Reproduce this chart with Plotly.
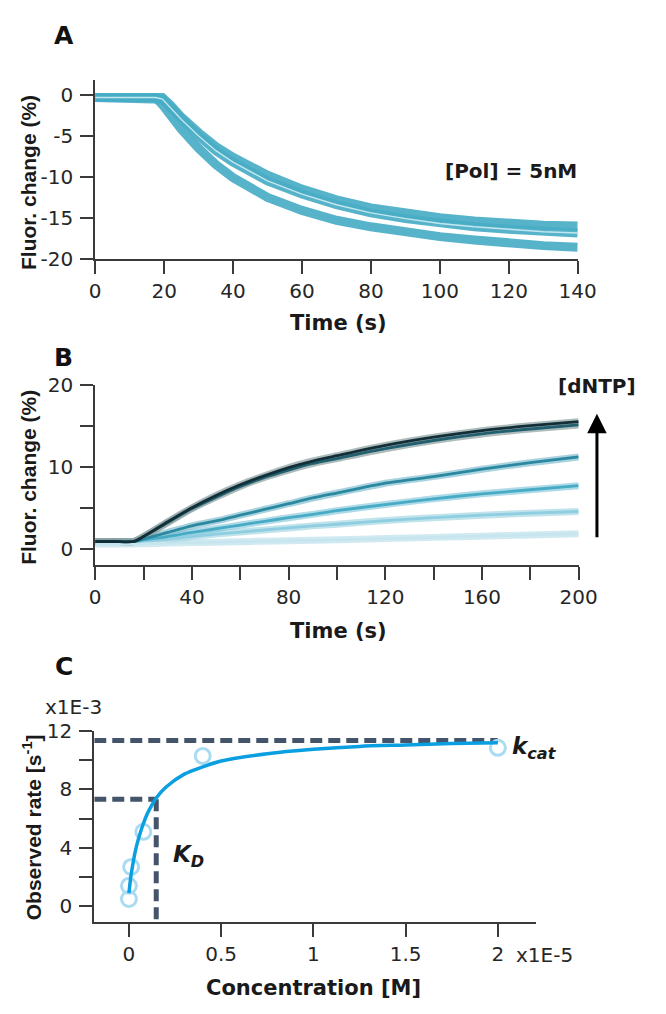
import plotly.graph_objects as go

# ---------------- Panel A data (Time s, Fluor. change %) ----------------
A_TIME = [0, 10, 17.5, 19.5, 22, 25, 30, 35, 40, 50, 60, 70, 80, 90, 100, 110, 120, 130, 140]
A_TRACE_1 = [-0.3, -0.3, -0.3, -0.3, -1.3, -2.7, -4.6, -6.3, -7.6, -9.8, -11.5, -12.8, -13.8, -14.5, -15.0, -15.4, -15.7, -15.9, -16.0]
A_TRACE_2 = [-0.3, -0.3, -0.3, -0.5, -1.6, -3.0, -5.0, -6.8, -8.2, -10.5, -12.1, -13.4, -14.4, -15.1, -15.7, -16.1, -16.4, -16.7, -16.85]
A_TRACE_3 = [-0.3, -0.3, -0.3, -1.2, -2.6, -4.2, -6.5, -8.5, -10.1, -12.5, -14.1, -15.3, -16.1, -16.8, -17.3, -17.7, -18.1, -18.4, -18.6]
A_XTICKS = [0, 20, 40, 60, 80, 100, 120, 140]
A_YTICKS = [-20, -15, -10, -5, 0]
A_YTICKTEXT = ["-20", "-15", "-10", "-5", "0"]

# ---------------- Panel B data (Time s, Fluor. change %) ----------------
B_TIME = [0, 8, 16, 20, 30, 40, 50, 60, 70, 80, 90, 100, 120, 140, 160, 180, 200]
B_DNTP_1 = [0.6, 0.6, 0.6, 0.63, 0.7, 0.76, 0.82, 0.88, 0.94, 1.0, 1.05, 1.1, 1.25, 1.4, 1.55, 1.7, 1.85]
B_DNTP_2 = [0.9, 0.9, 0.9, 1.0, 1.2, 1.5, 1.8, 2.05, 2.3, 2.55, 2.8, 3.0, 3.45, 3.8, 4.1, 4.35, 4.55]
B_DNTP_3 = [0.9, 0.9, 0.9, 1.1, 1.5, 2.0, 2.45, 2.9, 3.35, 3.8, 4.2, 4.65, 5.4, 6.1, 6.7, 7.2, 7.7]
B_DNTP_4 = [0.9, 0.9, 0.9, 1.2, 2.0, 2.8, 3.4, 4.1, 4.8, 5.5, 6.2, 6.8, 8.0, 8.8, 9.7, 10.5, 11.2]
B_DNTP_5 = [0.9, 0.9, 0.9, 1.5, 3.2, 4.9, 6.3, 7.6, 8.7, 9.6, 10.4, 11.0, 12.2, 13.2, 14.0, 14.6, 15.1]
B_DNTP_6 = [0.9, 0.9, 0.9, 1.5, 3.3, 5.0, 6.5, 7.8, 8.9, 9.9, 10.7, 11.35, 12.6, 13.6, 14.4, 15.0, 15.5]
B_XTICKS = [0, 40, 80, 120, 160, 200]
B_XMINOR = [20, 60, 100, 140, 180]
B_YTICKS = [0, 10, 20]
B_YMINOR = [5, 15]

# ---------------- Panel C data (Concentration x1E-5 M, rate x1E-3 s^-1) ----------------
C_CONC = [0, 0, 0.012, 0.078, 0.4, 2.0]
C_RATE = [0.5, 1.4, 2.7, 5.1, 10.3, 10.85]
C_FIT_CONC = [0, 0.01, 0.02, 0.035, 0.05, 0.075, 0.1, 0.125, 0.15, 0.2, 0.3, 0.4, 0.5, 0.75, 1.0, 1.25, 1.5, 1.75, 2.0]
C_FIT_RATE = [0.9, 2.0, 2.8, 3.8, 4.55, 5.55, 6.35, 6.95, 7.45, 8.15, 9.05, 9.55, 9.95, 10.45, 10.75, 10.95, 11.05, 11.15, 11.2]
KD_CONC = 0.148
KD_RATE = 7.33
KCAT_RATE = 11.35
KCAT_CONC_END = 2.0
C_XTICKS = [0, 0.5, 1, 1.5, 2]
C_XTICKTEXT = ["0", "0.5", "1", "1.5", "2"]
C_YTICKS = [0, 4, 8, 12]
C_YMINOR = [2, 6, 10]

W, H = 666, 1014
def px(x):
    return x / W
def py(y):
    return 1 - y / H

AX = "#3a3a3a"
TICKFONT = dict(family="DejaVu Sans", size=20, color="#262626")
TITLEFONT = dict(family="DejaVu Sans", size=21, color="#1a1a1a")
YTITLEFONT = dict(family="Liberation Sans", size=21, color="#1a1a1a")

fig = go.Figure()

# ---- Panel A traces ----
band_a = "rgba(72,172,198,0.92)"
for tr in (A_TRACE_3, A_TRACE_2, A_TRACE_1):
    fig.add_trace(go.Scatter(x=A_TIME, y=tr, mode="lines", xaxis="x", yaxis="y",
                             line=dict(color=band_a, width=9), showlegend=False, hoverinfo="skip"))
fig.add_trace(go.Scatter(x=A_TIME, y=A_TRACE_2, mode="lines", xaxis="x", yaxis="y",
                         line=dict(color="#c4e6ef", width=1.4), showlegend=False))

# ---- Panel B traces ----
b_sets = [
    (B_DNTP_1, "#c6e5ee", "rgba(198,229,238,0.8)"),
    (B_DNTP_2, "#8fcde0", "rgba(150,208,224,0.6)"),
    (B_DNTP_3, "#47abc5", "rgba(120,195,215,0.6)"),
    (B_DNTP_4, "#2a88a0", "rgba(110,180,200,0.6)"),
    (B_DNTP_5, "#23606f", "rgba(140,160,160,0.7)"),
    (B_DNTP_6, "#122f39", "rgba(140,160,160,0.7)"),
]
for vals, col, band in b_sets:
    fig.add_trace(go.Scatter(x=B_TIME, y=vals, mode="lines", xaxis="x2", yaxis="y2",
                             line=dict(color=band, width=7, shape="spline", smoothing=0.6),
                             showlegend=False, hoverinfo="skip"))
for vals, col, band in b_sets:
    fig.add_trace(go.Scatter(x=B_TIME, y=vals, mode="lines", xaxis="x2", yaxis="y2",
                             line=dict(color=col, width=2.8, shape="spline", smoothing=0.6),
                             showlegend=False))

# ---- Panel C traces ----
dash_col = "#44546a"
fig.add_trace(go.Scatter(x=[-0.188, KCAT_CONC_END], y=[KCAT_RATE, KCAT_RATE], mode="lines",
                         xaxis="x3", yaxis="y3", line=dict(color=dash_col, width=5, dash="12px,6px"),
                         showlegend=False))
fig.add_trace(go.Scatter(x=[-0.188, KD_CONC], y=[KD_RATE, KD_RATE], mode="lines",
                         xaxis="x3", yaxis="y3", line=dict(color=dash_col, width=5, dash="12px,6px"),
                         showlegend=False))
fig.add_trace(go.Scatter(x=[KD_CONC, KD_CONC], y=[KD_RATE, -1.05], mode="lines",
                         xaxis="x3", yaxis="y3", line=dict(color=dash_col, width=5, dash="12px,6px"),
                         showlegend=False))
fig.add_trace(go.Scatter(x=C_CONC, y=C_RATE, mode="markers", xaxis="x3", yaxis="y3",
                         marker=dict(symbol="circle-open", size=15, color="#a9dcf2",
                                     line=dict(width=3, color="#a9dcf2")),
                         showlegend=False))
fig.add_trace(go.Scatter(x=C_FIT_CONC, y=C_FIT_RATE, mode="lines", xaxis="x3", yaxis="y3",
                         line=dict(color="#0a9fe0", width=3.5, shape="spline", smoothing=0.8),
                         showlegend=False))

def axis_common(minor_vals=None):
    d = dict(showline=True, linecolor=AX, linewidth=2, ticks="outside", ticklen=13,
             tickwidth=2, tickcolor=AX, showgrid=False, zeroline=False,
             tickfont=TICKFONT, tickmode="array", fixedrange=True)
    if minor_vals is not None:
        d["minor"] = dict(tickmode="array", tickvals=minor_vals, ticks="outside", ticklen=13,
                          tickwidth=2, tickcolor=AX, showgrid=False)
    return d

layout = dict(
    width=W, height=H, margin=dict(l=0, r=0, t=0, b=0),
    paper_bgcolor="white", plot_bgcolor="white", showlegend=False,
    xaxis=dict(**axis_common(), domain=[px(92.7), px(594)], range=[0, 140],
               tickvals=A_XTICKS, anchor="y"),
    yaxis=dict(**axis_common(), domain=[py(252.7), py(69.3)], range=[-20, 1.88],
               tickvals=A_YTICKS, ticktext=A_YTICKTEXT, anchor="x", ticklabelstandoff=3),
    xaxis2=dict(**axis_common(B_XMINOR), domain=[px(92.7), px(595)], range=[0, 200],
                tickvals=B_XTICKS, anchor="y2"),
    yaxis2=dict(**axis_common(B_YMINOR), domain=[py(566.7), py(381.7)], range=[-2.0, 20],
                tickvals=B_YTICKS, anchor="x2", ticklabelstandoff=3),
    xaxis3=dict(**axis_common(), domain=[px(91.7), px(550.7)], range=[-0.188, 2.207],
                tickvals=C_XTICKS, ticktext=C_XTICKTEXT, anchor="y3"),
    yaxis3=dict(**axis_common(C_YMINOR), domain=[py(931.7), py(736.5)], range=[-1.05, 12],
                tickvals=C_YTICKS, anchor="x3", ticklabelstandoff=3),
)
fig.update_layout(**layout)

def ann(text, x, y, font, **kw):
    d = dict(text=text, x=px(x), y=py(y), xref="paper", yref="paper", showarrow=False,
             font=font, xanchor=kw.pop("xanchor", "center"), yanchor=kw.pop("yanchor", "middle"))
    d.update(kw)
    fig.add_annotation(**d)

LETTER = dict(family="DejaVu Sans", size=25, color="#111")
ann("<b>A</b>", 60, 24, LETTER)
ann("<b>B</b>", 60, 354, LETTER)
ann("<b>C</b>", 60, 670, LETTER)

ann("<b>Time (s)</b>", 345, 319, TITLEFONT)
ann("<b>Time (s)</b>", 345, 634, TITLEFONT)
ann("<b>Concentration [M]</b>", 320, 1000, TITLEFONT)
ann("<b>Fluor. change (%)</b>", 24, 175, YTITLEFONT, textangle=-90)
ann("<b>Fluor. change (%)</b>", 24, 477, YTITLEFONT, textangle=-90)
ann("<b>Observed rate [s<sup>-1</sup>]</b>", 27, 835, dict(family="Liberation Sans", size=21, color="#1a1a1a"), textangle=-90)

LABEL = dict(family="DejaVu Sans", size=20, color="#1a1a1a")
ann("<b>[Pol] = 5nM</b>", 525, 163, LABEL)
ann("x1E-3", 70, 712, TICKFONT)
ann("x1E-5", 560, 966, TICKFONT)
ann("<b><i>K<sub>D</sub></i></b>", 171, 864, dict(family="DejaVu Sans", size=23, color="#1a1a1a"), xanchor="left")
ann("<b><i>k<sub>cat</sub></i></b>", 524, 754, dict(family="DejaVu Sans", size=23, color="#1a1a1a"), xanchor="left")

# "[dNTP]" label with the upward arrow showing increasing concentration
fig.add_annotation(x=px(614), y=py(538), xref="paper", yref="paper", text="<b>[dNTP]</b>",
                   font=LABEL, showarrow=True, axref="pixel", ayref="pixel", ax=0, ay=-151,
                   arrowside="start", arrowhead=2, startarrowhead=2, arrowsize=1.3,
                   startarrowsize=1.3, arrowwidth=3, arrowcolor="#000", startstandoff=14)

fig.write_html("out.html", config={"displayModeBar": False, "staticPlot": True},
               post_script="document.body.style.margin='0';document.body.style.overflow='hidden';")
